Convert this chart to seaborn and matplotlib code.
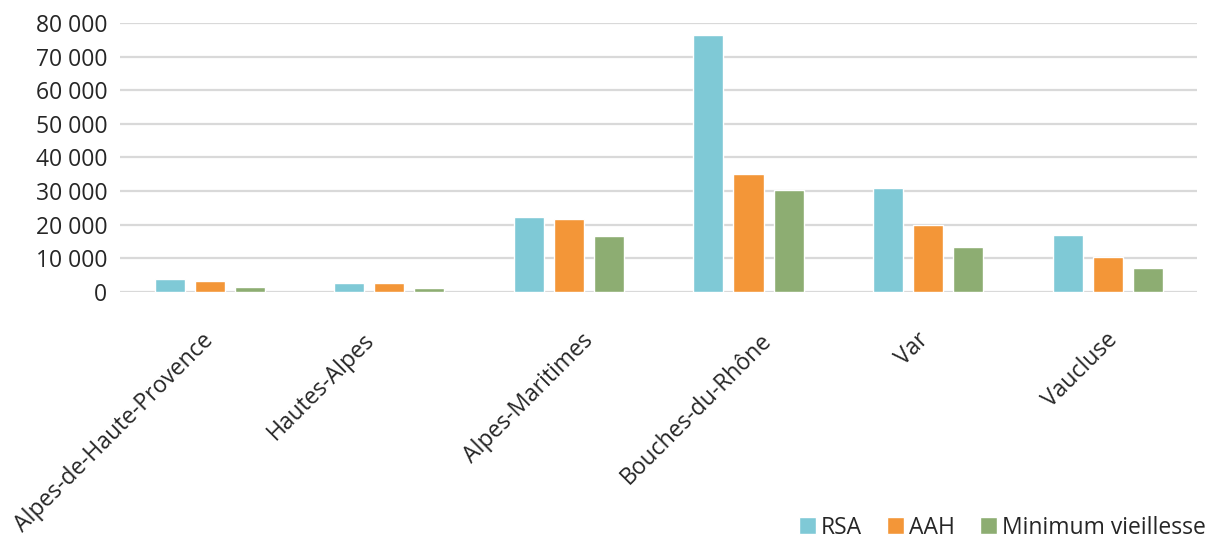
import matplotlib
matplotlib.use("Agg")
import matplotlib.pyplot as plt
from matplotlib.ticker import FuncFormatter, MultipleLocator
from matplotlib.transforms import ScaledTranslation
import seaborn as sns
import pandas as pd

departements = ["Alpes-de-Haute-Provence", "Hautes-Alpes", "Alpes-Maritimes",
                "Bouches-du-Rhône", "Var", "Vaucluse"]
rsa = [4000, 2800, 22200, 76500, 31000, 17000]
aah = [3200, 2700, 21800, 35000, 19800, 10300]
minimum_vieillesse = [1600, 1100, 16700, 30200, 13500, 7100]
series = ["RSA", "AAH", "Minimum vieillesse"]
colors = ["#7FC9D6", "#F39638", "#8DAD72"]

# horizontal nudge (pixels) of each rotated category label
label_nudge_px = [0, -19, 20, 19, -4, 6]

df = pd.DataFrame({
    "departement": departements * 3,
    "prestation": [s for s in series for _ in departements],
    "valeur": rsa + aah + minimum_vieillesse,
})

sns.set_theme(style="white")
plt.rcParams["font.family"] = ["Open Sans", "DejaVu Sans"]

fig = plt.figure(figsize=(12.08, 5.44), dpi=100)
ax = fig.add_axes([0.0993, 0.463, 0.892, 0.495])

sns.barplot(data=df, x="departement", y="valeur", hue="prestation",
            hue_order=series, palette=colors, width=0.67, gap=0.25,
            saturation=1, ax=ax, legend=True)

ax.set_ylim(0, 80000)
ax.set_xlim(-0.5, 5.5)
ax.yaxis.set_major_locator(MultipleLocator(10000))
ax.yaxis.set_major_formatter(FuncFormatter(lambda v, p: f"{v:,.0f}".replace(",", " ")))
ax.grid(axis="y", color="#D9D9D9", linewidth=1.6)
ax.set_axisbelow(True)
for s in ax.spines.values():
    s.set_visible(False)
ax.set_xlabel("")
ax.set_ylabel("")
ax.tick_params(axis="y", labelsize=16.5, labelcolor="#262626", length=0, pad=9)
ax.tick_params(axis="x", labelsize=16.5, labelcolor="#262626", length=0, pad=6)
for lbl, nudge in zip(ax.get_xticklabels(), label_nudge_px):
    lbl.set_rotation(45)
    lbl.set_ha("right")
    lbl.set_rotation_mode("anchor")
    shift = ScaledTranslation(0.14 + (nudge - 22) / 100, -0.28, fig.dpi_scale_trans)
    lbl.set_transform(lbl.get_transform() + shift)

handles, labels = ax.get_legend_handles_labels()
ax.legend_.remove()
fig.legend(handles, labels, loc="lower right", bbox_to_anchor=(1.015, -0.03),
           ncol=3, frameon=False, fontsize=16.5, handlelength=0.75,
           handleheight=0.75, handletextpad=0.2, columnspacing=1.1,
           labelcolor="#262626")

fig.savefig("out.png", dpi=100)
